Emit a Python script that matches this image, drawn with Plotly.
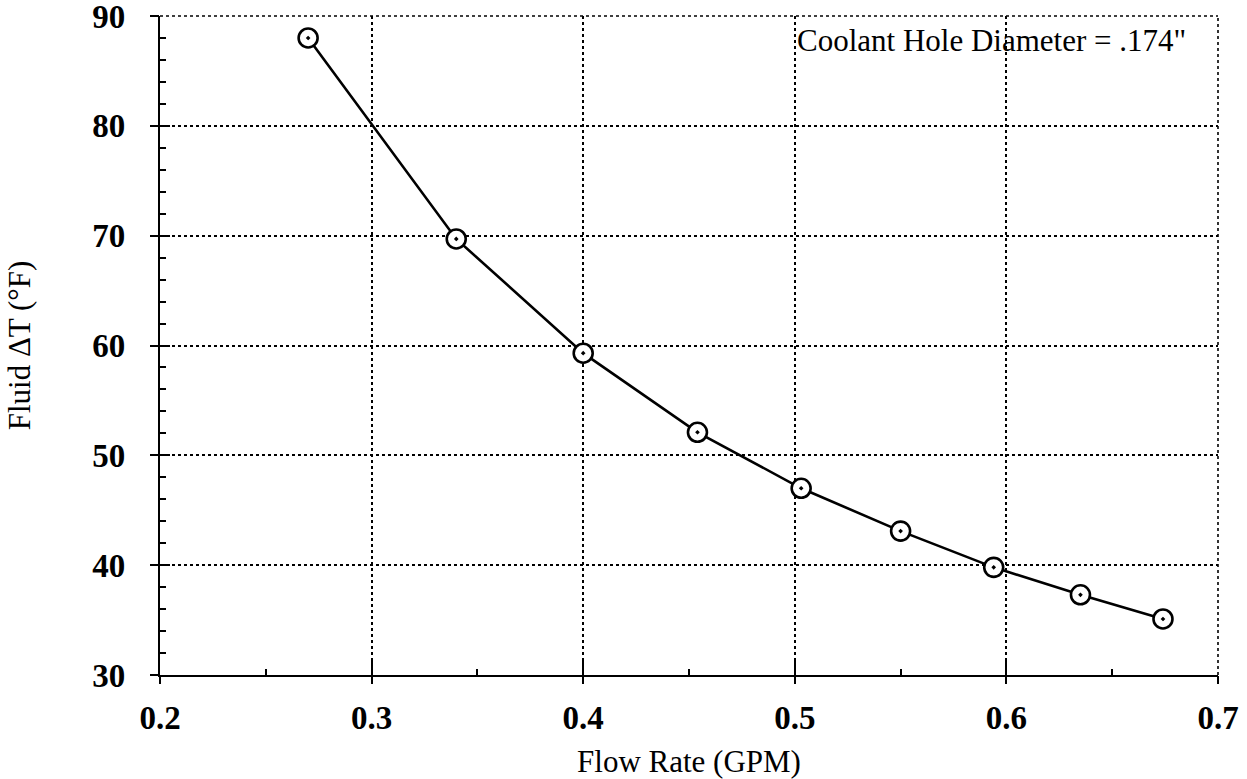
import plotly.graph_objects as go

flow_rate = [0.270, 0.340, 0.400, 0.454, 0.503, 0.550, 0.594, 0.635, 0.674]
delta_t = [88.0, 69.7, 59.3, 52.1, 47.0, 43.1, 39.8, 37.3, 35.1]

x_title = "Flow Rate (GPM)"
y_title = "Fluid ΔT (°F)"
note = 'Coolant Hole Diameter = .174"'

serif = "Liberation Serif"
x_range = [0.2, 0.7]
y_range = [30, 90]

fig = go.Figure()
fig.add_trace(go.Scatter(
    x=flow_rate, y=delta_t, mode="lines+markers",
    line=dict(color="black", width=2.6),
    marker=dict(symbol="circle-dot", size=19, color="white",
                line=dict(color="black", width=2.6)),
    showlegend=False, cliponaxis=False,
))
# empty helper trace so the overlaid tick-only axes are drawn
fig.add_trace(go.Scatter(x=[], y=[], xaxis="x2", yaxis="y2", showlegend=False, hoverinfo="skip"))

common_grid = dict(showgrid=True, gridcolor="black", griddash="dot", gridwidth=1.6,
                   showline=True, linecolor="black", linewidth=2.2, zeroline=False,
                   automargin=False, ticklabeloverflow="allow")

fig.update_layout(
    width=1247, height=779,
    margin=dict(l=160, r=29, t=16, b=104),
    paper_bgcolor="white", plot_bgcolor="white",
    xaxis=dict(range=x_range, dtick=0.1, tick0=0.2, tickformat=".1f",
               ticks="inside", ticklen=15, tickwidth=1.6, tickcolor="black",
               tickfont=dict(family=serif, size=33, color="black", weight="bold"),
               ticklabelstandoff=12,
               minor=dict(dtick=0.05, ticks="inside", ticklen=6, tickcolor="black", tickwidth=1.6, showgrid=False),
               title=dict(text=x_title, font=dict(family=serif, size=31, color="black"), standoff=18),
               **common_grid),
    yaxis=dict(range=y_range, dtick=10, tick0=30,
               ticks="inside", ticklen=10, tickwidth=1.6, tickcolor="black",
               tickfont=dict(family=serif, size=33, color="black", weight="bold"),
               ticklabelstandoff=26,
               minor=dict(dtick=2, ticks="inside", ticklen=6, tickcolor="black", tickwidth=1.6, showgrid=False),
               title=dict(text=y_title, font=dict(family=serif, size=31, color="black"), standoff=52),
               **common_grid),
    xaxis2=dict(overlaying="x", range=x_range, dtick=0.1, tick0=0.2, side="bottom",
                ticks="outside", ticklen=8, tickwidth=1.6, tickcolor="black",
                showticklabels=False, showgrid=False, showline=False, zeroline=False),
    yaxis2=dict(overlaying="y", range=y_range, dtick=10, tick0=30, side="left",
                ticks="outside", ticklen=9, tickwidth=1.6, tickcolor="black",
                showticklabels=False, showgrid=False, showline=False, zeroline=False),
    shapes=[
        dict(type="line", xref="paper", yref="paper", x0=0, x1=1, y0=1, y1=1,
             line=dict(color="black", width=1.6, dash="dot"), layer="below"),
        dict(type="line", xref="paper", yref="paper", x0=1, x1=1, y0=0, y1=1,
             line=dict(color="black", width=1.6, dash="dot"), layer="below"),
    ],
    annotations=[dict(text=note, xref="paper", yref="paper", x=0.9716, y=0.963,
                      xanchor="right", yanchor="middle", showarrow=False,
                      font=dict(family=serif, size=31, color="black"))],
)

fig.write_html("out.html")
